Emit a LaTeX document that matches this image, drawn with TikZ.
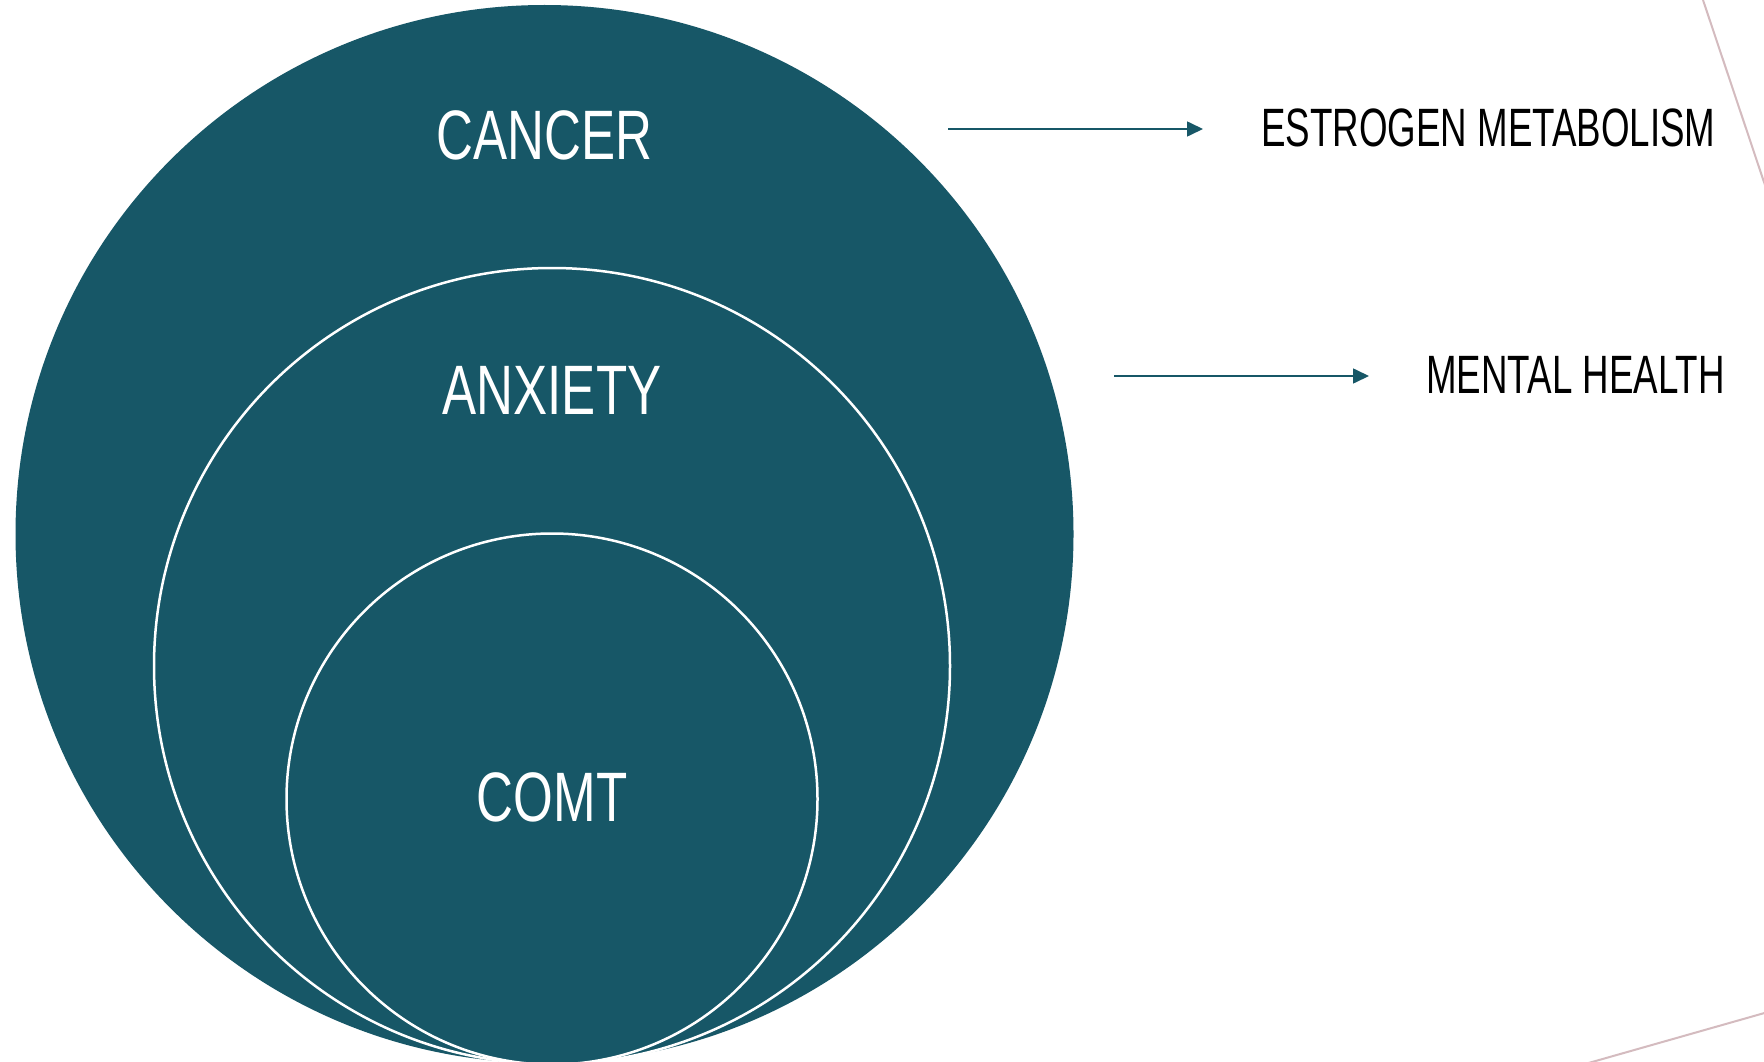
\documentclass[tikz,border=0pt]{standalone}
\usepackage{fontspec}
\setmainfont{Liberation Sans}
\newfontfamily\condfont[FakeStretch=0.68]{Liberation Sans}
\newfontfamily\widecondfont[FakeStretch=0.73]{Liberation Sans}
\usetikzlibrary{arrows.meta}
\definecolor{teal}{RGB}{23,87,103}
\definecolor{rose}{RGB}{212,187,191}
\begin{document}
\begin{tikzpicture}[x=1pt,y=-1pt,
  ring/.style={draw=white,line width=2.5pt,fill=teal},
  inlabel/.style={text=white,font=\widecondfont\fontsize{70}{70}\selectfont,inner sep=0pt},
  outlabel/.style={text=black,font=\condfont\fontsize{54}{54}\selectfont,inner sep=0pt},
  link/.style={draw=teal,line width=1.6pt,-{Triangle[length=16pt,width=15pt]}},
  edge/.style={draw=rose,line width=2pt}]
\clip (0,0) rectangle (1764,1062);
\fill[white] (0,0) rectangle (1764,1062);

% nested circles
\fill[teal] (544.5,534) circle[radius=529];
\draw[ring] (552,666) circle[radius=398];
\draw[ring] (552,799) circle[radius=265.5];

% labels inside the circles
\node[inlabel] (cancer) at (544.5,135) {CANCER};
\node[inlabel] (anxiety) at (552,390) {ANXIETY};
\node[inlabel] (comt) at (552,797) {COMT};

% outcomes on the right
\node[outlabel,anchor=west] (estrogen) at (1261,128) {ESTROGEN METABOLISM};
\node[outlabel,anchor=west] (mental) at (1426,375) {MENTAL HEALTH};

\coordinate (a1s) at (948,129);
\coordinate (a1e) at (1203,129);
\coordinate (a2s) at (1114,376);
\coordinate (a2e) at (1369,376);
\draw[link] (a1s) -- (a1e);
\draw[link] (a2s) -- (a2e);

% decorative edge lines
\coordinate (e1) at (1703,0);
\coordinate (e2) at (1775,215);
\coordinate (e3) at (1585,1064);
\coordinate (e4) at (1775,1010);
\draw[edge] (e1) -- (e2);
\draw[edge] (e3) -- (e4);
\end{tikzpicture}
\end{document}
